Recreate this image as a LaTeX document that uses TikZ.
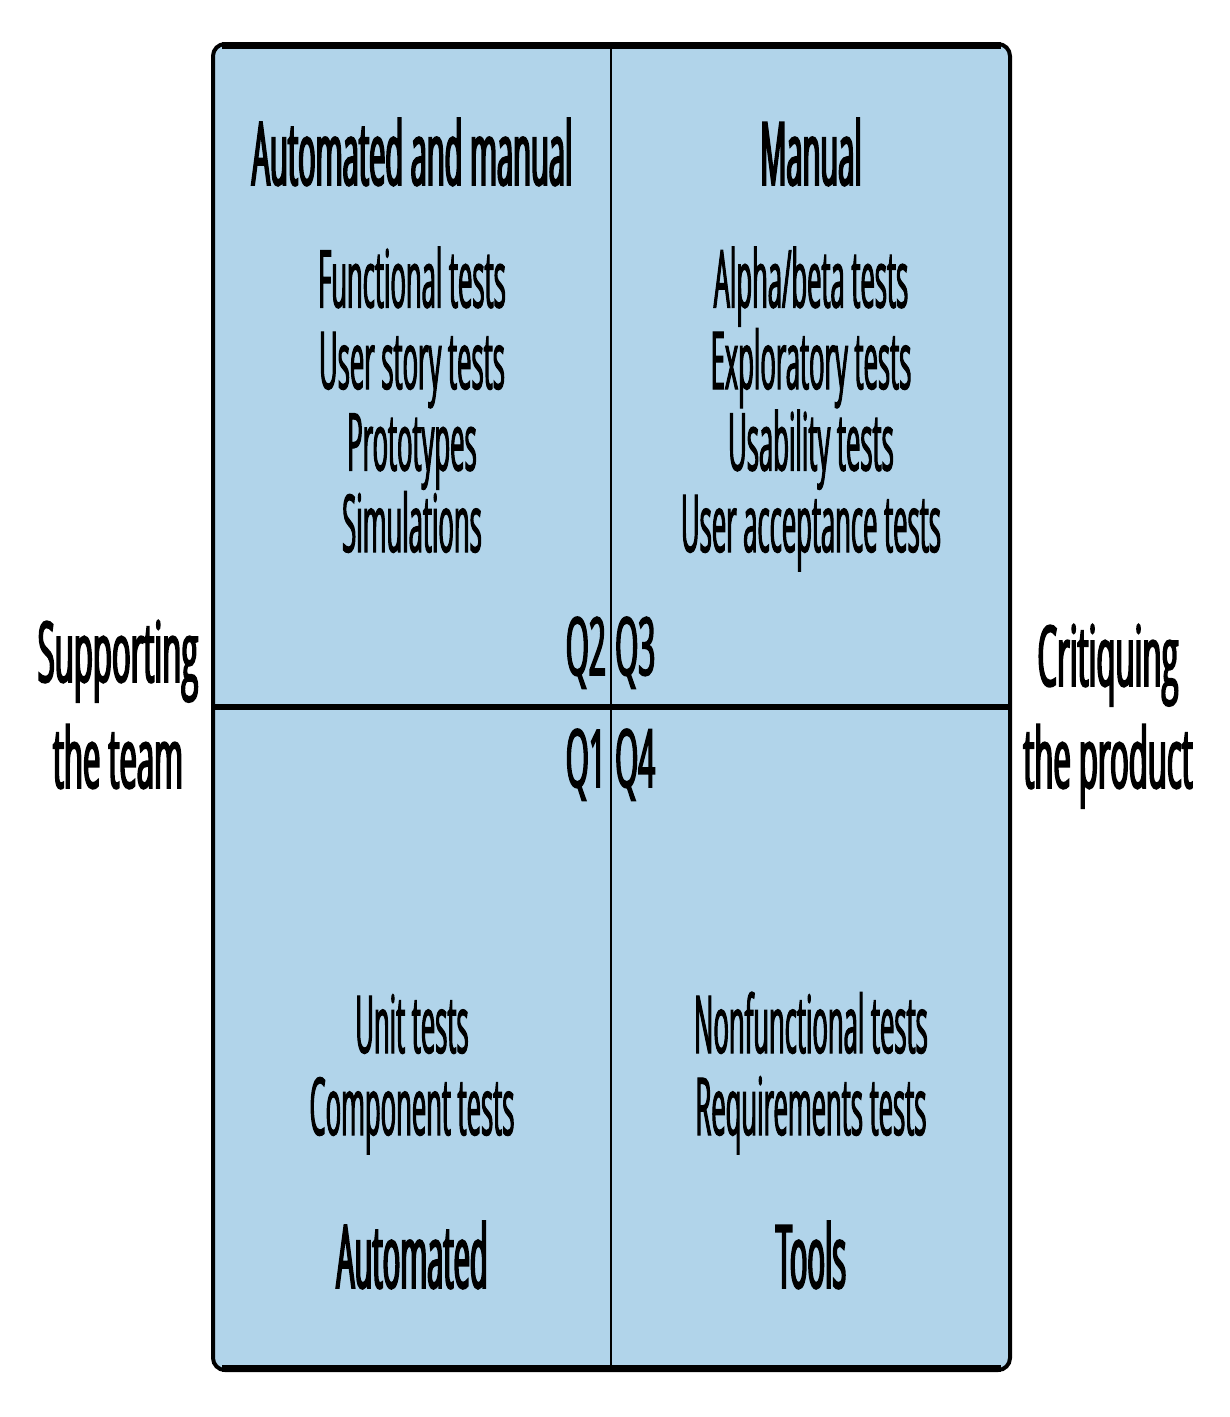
\documentclass[tikz,border=0pt]{standalone}
\usepackage{fontspec}
\setmainfont{Open Sans}
\newfontfamily\itemfont[FakeStretch=0.32,FakeBold=1.3]{Open Sans}
\newfontfamily\headfont[FakeStretch=0.33,FakeBold=2.1]{Open Sans}
\newfontfamily\sidefont[FakeStretch=0.37,FakeBold=2.1]{Open Sans}
\definecolor{quadblue}{RGB}{177,212,234}
\begin{document}
\begin{tikzpicture}[x=1pt,y=-1pt,
    head/.style={anchor=base,inner sep=0pt,font=\headfont\fontsize{88}{88}\selectfont},
    item/.style={anchor=base,inner sep=0pt,font=\itemfont\fontsize{80}{80}\selectfont},
    qlabel/.style={anchor=base,inner sep=0pt,font=\sidefont\fontsize{80}{80}\selectfont},
    side/.style={anchor=base,inner sep=0pt,font=\sidefont\fontsize{84}{84}\selectfont}]
  \useasboundingbox (0,0) rectangle (1230,1417);
  \fill[quadblue,rounded corners=12pt] (213,44) rectangle (1010,1370);
  \draw[line width=4pt,rounded corners=12pt] (213,44) rectangle (1010,1370);
  \draw[line width=7pt] (222,45) -- (1001,45) (222,1368) -- (1001,1368);
  \coordinate (top) at (611,44);
  \coordinate (bot) at (611,1370);
  \coordinate (lft) at (213,707);
  \coordinate (rgt) at (1010,707);
  \draw[line width=2.5pt] (top) -- (bot);
  \draw[line width=6pt] (lft) -- (rgt);
  \node[head] (hdtwo) at (412,185) {Automated and manual};
  \node[head] (hdthree) at (811,185) {Manual};
  \foreach \t [count=\i] in {Functional tests,User story tests,Prototypes,Simulations}
    \node[item] (qtwo\i) at (412,226+81.5*\i) {\t};
  \foreach \t [count=\i] in {Alpha/beta tests,Exploratory tests,Usability tests,User acceptance tests}
    \node[item] (qthree\i) at (811,226+81.5*\i) {\t};
  \node[qlabel,anchor=base east] (qtwo) at (606,675) {Q2};
  \node[qlabel,anchor=base west] (qthree) at (615,675) {Q3};
  \node[qlabel,anchor=base east] (qone) at (606,787) {Q1};
  \node[qlabel,anchor=base west] (qfour) at (615,787) {Q4};
  \node[side] (sup1) at (118,682) {Supporting};
  \node[side] (sup2) at (118,788) {the team};
  \node[side] (crit1) at (1108,686) {Critiquing};
  \node[side] (crit2) at (1108,788) {the product};
  \node[item] (qone1) at (412,1053) {Unit tests};
  \node[item] (qone2) at (412,1135) {Component tests};
  \node[item] (qfour1) at (811,1053) {Nonfunctional tests};
  \node[item] (qfour2) at (811,1135) {Requirements tests};
  \node[head] (ftone) at (412,1288) {Automated};
  \node[head] (ftfour) at (811,1288) {Tools};
\end{tikzpicture}
\end{document}
